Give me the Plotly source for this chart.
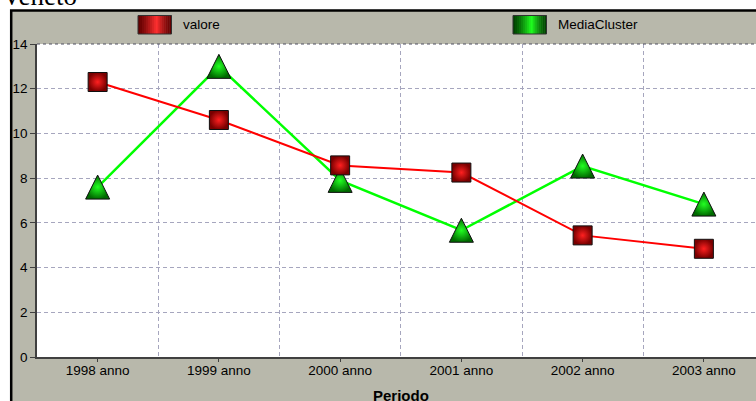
import plotly.graph_objects as go

# ---- data ----
categories = ["1998 anno", "1999 anno", "2000 anno", "2001 anno", "2002 anno", "2003 anno"]
valore = [12.3, 10.6, 8.57, 8.25, 5.44, 4.84]
media_cluster = [7.6, 13.0, 7.9, 5.67, 8.54, 6.84]
y_ticks = [0, 2, 4, 6, 8, 10, 12, 14]
x_tick_pos = [0, 1, 2, 3, 4, 5]

W, H = 756, 401
ML, MR, MT, MB = 37, 0, 44, 44
PW, PH = W - ML - MR, H - MT - MB
YMAX = 14
TRI = 24                      # triangle marker size (px)
SHIFT = (TRI / 2) * YMAX / PH  # lift so the arrow-up symbol is centred on its point
XR = [-0.5, -0.5 + PW / 121.25]


def px(p):
    return (p - ML) / PW


def py(q):
    return (H - MB - q) / PH


FONT = "Liberation Sans, Arial, sans-serif"
GRID = "#a6a6be"

fig = go.Figure()

# lines
fig.add_trace(go.Scatter(x=categories, y=media_cluster, name="MediaCluster", mode="lines",
                         line=dict(color="#00ff00", width=2.5)))
fig.add_trace(go.Scatter(x=categories, y=valore, name="valore", mode="lines",
                         line=dict(color="#ff0000", width=2)))
# triangle markers (on a lifted overlay axis so the symbol is centred)
fig.add_trace(go.Scatter(
    x=categories, y=media_cluster, name="MediaCluster", mode="markers", yaxis="y2",
    cliponaxis=False,
    marker=dict(symbol="arrow-up", size=TRI, color="#006a00",
                gradient=dict(type="radial", color="#22ff22"),
                line=dict(color="#101010", width=1)),
))
# square markers on top
fig.add_trace(go.Scatter(
    x=categories, y=valore, name="valore", mode="markers", yaxis="y3",
    cliponaxis=False,
    marker=dict(symbol="square", size=19, color="#7a0000",
                gradient=dict(type="radial", color="#ff2020"),
                line=dict(color="#101010", width=1)),
))
# empty trace to carry the tick-mark axis
fig.add_trace(go.Scatter(x=[], y=[], xaxis="x2", showlegend=False))

shapes = []
shapes.append(dict(type="rect", xref="paper", yref="paper", layer="below",
                   x0=px(11.2), x1=px(820), y0=py(460), y1=py(10.5),
                   fillcolor="#b8b8ab", line=dict(color="#000000", width=2.5)))
shapes.append(dict(type="rect", xref="paper", yref="paper", layer="below",
                   x0=0, x1=1, y0=0, y1=1, fillcolor="#ffffff", line=dict(width=0)))
shapes.append(dict(type="line", xref="paper", yref="paper", x0=0, x1=1, y0=1, y1=1,
                   line=dict(color="#505060", width=1, dash="dot")))


def lerp(c1, c2, t):
    return "#%02x%02x%02x" % tuple(int(round(a + (b - a) * t)) for a, b in zip(c1, c2))


def legend_box(x0, x1, y0, y1, dark, bright):
    n = 17
    w = (x1 - x0) / n
    peak = 0.55
    for i in range(n):
        c = (i + 0.5) / n
        t = 1 - abs(c - peak) / (peak if c < peak else 1 - peak)
        t = max(0.0, min(1.0, t)) ** 1.3
        shapes.append(dict(type="rect", xref="paper", yref="paper",
                           x0=px(x0 + i * w), x1=px(x0 + (i + 1) * w + 0.3),
                           y0=py(y1), y1=py(y0), fillcolor=lerp(dark, bright, t),
                           line=dict(width=0)))
    shapes.append(dict(type="rect", xref="paper", yref="paper",
                       x0=px(x0), x1=px(x1), y0=py(y1), y1=py(y0),
                       fillcolor="rgba(0,0,0,0)", line=dict(color="#303030", width=1)))


legend_box(138, 171.5, 15.5, 34, (0x60, 0, 0), (0xff, 0x30, 0x30))
legend_box(513, 546.5, 15.5, 34, (0, 0x40, 0), (0x20, 0xff, 0x20))

annotations = [
    dict(text="valore", xref="paper", yref="paper", x=px(181), y=py(25),
         xanchor="left", yanchor="middle", showarrow=False,
         font=dict(family=FONT, size=13.5, color="#000000")),
    dict(text="MediaCluster", xref="paper", yref="paper", x=px(556), y=py(25),
         xanchor="left", yanchor="middle", showarrow=False,
         font=dict(family=FONT, size=13.5, color="#000000")),
    dict(text="<b>Periodo</b>", xref="paper", yref="paper", x=px(401), y=py(395),
         xanchor="center", yanchor="middle", showarrow=False,
         font=dict(family=FONT, size=15, color="#000000")),
    dict(text="Veneto", xref="paper", yref="paper", x=px(0), y=py(13),
         xanchor="left", yanchor="bottom", showarrow=False,
         font=dict(family="Liberation Serif, Times New Roman, serif", size=27, color="#000000")),
]

fig.update_layout(
    width=W, height=H,
    margin=dict(l=ML, r=MR, t=MT, b=MB, pad=0, autoexpand=False),
    paper_bgcolor="#ffffff", plot_bgcolor="#ffffff",
    showlegend=False,
    shapes=shapes, annotations=annotations,
    xaxis=dict(type="category", categoryarray=categories, range=XR,
               tickson="boundaries", ticks="", showgrid=True, gridcolor=GRID, griddash="4px,3px",
               gridwidth=1, showline=True, linecolor="#404040", linewidth=2,
               tickfont=dict(family=FONT, size=13.5, color="#000000"), zeroline=False),
    xaxis2=dict(overlaying="x", anchor="y", side="bottom", range=XR,
                tickvals=x_tick_pos, ticks="outside", ticklen=4, tickcolor="#404040",
                showticklabels=False, showgrid=False, zeroline=False, showline=False),
    yaxis=dict(range=[0, YMAX], tickvals=y_ticks, ticks="outside", ticklen=5, tickcolor="#404040",
               showgrid=True, gridcolor=GRID, griddash="4px,3px", gridwidth=1,
               showline=True, linecolor="#404040", linewidth=1.5, zeroline=False,
               tickfont=dict(family=FONT, size=13.5, color="#000000")),
    yaxis2=dict(overlaying="y", range=[-SHIFT, YMAX - SHIFT], visible=False),
    yaxis3=dict(overlaying="y", range=[0, YMAX], visible=False),
)

fig.write_html("out.html", config={"displayModeBar": False},
               post_script="document.body.style.margin='0px';document.body.style.overflow='hidden';")
